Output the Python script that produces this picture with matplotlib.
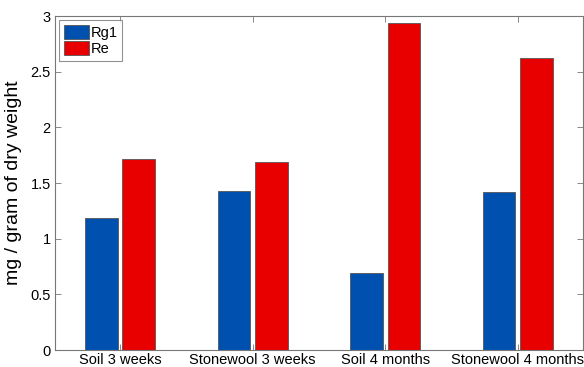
import numpy as np
import matplotlib.pyplot as plt

categories = ['Soil 3 weeks', 'Stonewool 3 weeks', 'Soil 4 months', 'Stonewool 4 months']
rg1 = [1.19, 1.43, 0.69, 1.42]
re = [1.72, 1.69, 2.94, 2.62]

plt.rcParams['font.family'] = ['Liberation Sans', 'DejaVu Sans']

fig = plt.figure(figsize=(5.84, 3.67), dpi=100)
ax = fig.add_axes([0.0942, 0.0463, 0.904, 0.910])

x = np.arange(1, len(categories) + 1)
w = 0.245
off = 0.141
ax.bar(x - off, rg1, w, color='#0050b0', edgecolor='#555555', linewidth=0.6, label='Rg1')
ax.bar(x + off, re, w, color='#e80000', edgecolor='#555555', linewidth=0.6, label='Re')

ax.set_xlim(0.51, 4.49)
ax.set_ylim(0, 3)
ax.set_xticks(x)
ax.set_xticklabels(categories, fontsize=10.5)
ax.set_yticks([0, 0.5, 1, 1.5, 2, 2.5, 3])
ax.set_yticklabels(['0', '0.5', '1', '1.5', '2', '2.5', '3'], fontsize=10.5)
ax.tick_params(direction='in', top=True, right=True, length=4, width=0.6, color='#777777')
ax.tick_params(axis='x', pad=2)
ax.tick_params(axis='y', pad=3)
for s in ax.spines.values():
    s.set_color('#777777')
    s.set_linewidth(0.8)

ax.set_ylabel('mg / gram of dry weight', fontsize=14, labelpad=6)

leg = ax.legend(loc='upper left', fontsize=10.5, frameon=True, fancybox=False,
                handlelength=1.7, handleheight=1.1, handletextpad=0.15,
                borderpad=0.3, labelspacing=0.1, borderaxespad=0.3)
leg.get_frame().set_edgecolor('#777777')
leg.get_frame().set_linewidth(0.8)

fig.savefig('out.png', dpi=100)
